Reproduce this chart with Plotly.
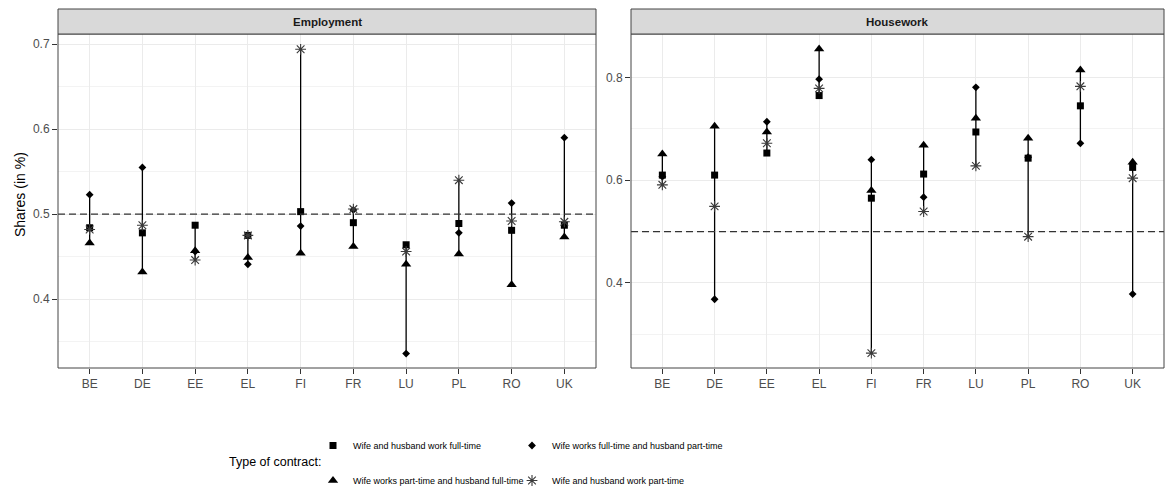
import plotly.graph_objects as go

countries = ["BE", "DE", "EE", "EL", "FI", "FR", "LU", "PL", "RO", "UK"]

series_names = [
    "Wife and husband work full-time",
    "Wife works full-time and husband part-time",
    "Wife works part-time and husband full-time",
    "Wife and husband work part-time",
]

# Employment panel
emp_ft_ft = [0.484, 0.478, 0.487, 0.475, 0.503, 0.490, 0.464, 0.489, 0.481, 0.487]
emp_ft_pt = [0.523, 0.555, 0.456, 0.441, 0.486, 0.505, 0.336, 0.478, 0.513, 0.590]
emp_pt_ft = [0.466, 0.432, 0.457, 0.449, 0.454, 0.462, 0.441, 0.453, 0.417, 0.473]
emp_pt_pt = [0.482, 0.487, 0.446, 0.475, 0.694, 0.506, 0.456, 0.540, 0.492, 0.491]

# Housework panel
hw_ft_ft = [0.610, 0.610, 0.653, 0.765, 0.565, 0.612, 0.694, 0.643, 0.745, 0.625]
hw_ft_pt = [0.607, 0.368, 0.714, 0.797, 0.640, 0.567, 0.781, 0.645, 0.672, 0.378]
hw_pt_ft = [0.651, 0.705, 0.694, 0.856, 0.580, 0.668, 0.721, 0.682, 0.815, 0.635]
hw_pt_pt = [0.591, 0.549, 0.672, 0.779, 0.263, 0.539, 0.628, 0.490, 0.783, 0.604]

panel_titles = ["Employment", "Housework"]
y_title = "Shares (in %)"
legend_title = "Type of contract:"
reference_share = 0.5

W, H = 1166, 488
def px_x(v):
    return v / W
def px_y(v):
    return 1 - v / H

dom1 = [px_x(58), px_x(596)]
dom2 = [px_x(631), px_x(1164)]
ydom = [px_y(368), px_y(34)]

marker_styles = [
    dict(symbol="square", size=7, color="black"),
    dict(symbol="diamond", size=6, color="black"),
    dict(symbol="triangle-up", size=9, color="black"),
    dict(symbol="asterisk-open", size=9, color="#3a3a3a", line=dict(color="#3a3a3a", width=1.1)),
]
# legend columns: col 1 = square / triangle, col 2 = diamond / star
legend_ids = ["legend", "legend2", "legend", "legend2"]

fig = go.Figure()

panels = [
    ("x", "y", [emp_ft_ft, emp_ft_pt, emp_pt_ft, emp_pt_pt], True),
    ("x2", "y2", [hw_ft_ft, hw_ft_pt, hw_pt_ft, hw_pt_pt], False),
]

for xa, ya, series, show in panels:
    lx, ly = [], []
    for i, c in enumerate(countries):
        vals = [s[i] for s in series]
        lx += [c, c, None]
        ly += [min(vals), max(vals), None]
    fig.add_trace(go.Scatter(x=lx, y=ly, mode="lines", line=dict(color="black", width=1.3),
                             xaxis=xa, yaxis=ya, showlegend=False, hoverinfo="skip"))
    for k, s in enumerate(series):
        fig.add_trace(go.Scatter(x=countries, y=s, mode="markers", name=series_names[k],
                                 marker=marker_styles[k], xaxis=xa, yaxis=ya,
                                 legendgroup=f"g{k}", showlegend=show, legend=legend_ids[k]))

axis_font = dict(family="Liberation Sans, Arial, sans-serif", size=12, color="#4D4D4D")
common_x = dict(type="category", range=[-0.6, 9.6], showgrid=True, gridcolor="#EBEBEB", gridwidth=1,
                ticks="outside", ticklen=5, tickcolor="#333333", tickwidth=1, tickfont=axis_font,
                zeroline=False, showline=False, fixedrange=True)

def yaxis_style(step):
    return dict(showgrid=True, gridcolor="#EBEBEB", gridwidth=1, ticks="outside", ticklen=5,
                tickcolor="#333333", tickwidth=1, tickfont=axis_font, zeroline=False, showline=False,
                tick0=0, dtick=step, tickformat=".1f",
                minor=dict(dtick=step / 2, tick0=0, showgrid=True, gridcolor="#F3F3F3", gridwidth=0.6, ticks=""))

legend_font = dict(family="Liberation Sans, Arial, sans-serif", size=9, color="black")
legend_common = dict(orientation="v", xanchor="left", yanchor="top", itemsizing="trace",
                     xref="container", yref="container",
                     traceorder="grouped", tracegroupgap=16, font=legend_font,
                     bgcolor="rgba(0,0,0,0)", borderwidth=0)

fig.update_layout(
    width=W, height=H,
    margin=dict(l=0, r=0, t=0, b=0, autoexpand=False),
    paper_bgcolor="white", plot_bgcolor="white",
    xaxis=dict(domain=dom1, anchor="y", categoryorder="array", categoryarray=countries, **common_x),
    xaxis2=dict(domain=dom2, anchor="y2", categoryorder="array", categoryarray=countries, **common_x),
    yaxis=dict(domain=ydom, anchor="x", range=[0.319, 0.712], **yaxis_style(0.1)),
    yaxis2=dict(domain=ydom, anchor="x2", range=[0.234, 0.885], **yaxis_style(0.2)),
    legend=dict(x=px_x(313), y=px_y(431), **legend_common),
    legend2=dict(x=px_x(512), y=px_y(431), **legend_common),
)

shapes = []
annotations = []
for (xa, ya), dom, title in zip([("x", "y"), ("x2", "y2")], [dom1, dom2], panel_titles):
    shapes.append(dict(type="line", xref=f"{xa} domain", yref=ya, x0=0, x1=1,
                       y0=reference_share, y1=reference_share,
                       line=dict(color="#333333", width=1.3, dash="7px,4px"), layer="above"))
    shapes.append(dict(type="rect", xref=f"{xa} domain", yref=f"{ya} domain", x0=0, x1=1, y0=0, y1=1,
                       line=dict(color="#444444", width=1), fillcolor="rgba(0,0,0,0)", layer="above"))
    shapes.append(dict(type="rect", xref="paper", yref="paper", x0=dom[0], x1=dom[1],
                       y0=ydom[1], y1=px_y(9), line=dict(color="#444444", width=1),
                       fillcolor="#D9D9D9", layer="above"))
    annotations.append(dict(text=f"<b>{title}</b>", xref="paper", yref="paper",
                            x=(dom[0] + dom[1]) / 2, y=(ydom[1] + px_y(9)) / 2,
                            xanchor="center", yanchor="middle", showarrow=False,
                            font=dict(family="Liberation Sans, Arial, sans-serif", size=11.5, color="#1A1A1A")))

annotations.append(dict(text=y_title, xref="paper", yref="paper", x=px_x(20), y=px_y(195),
                        xanchor="center", yanchor="middle", textangle=-90, showarrow=False,
                        font=dict(family="Liberation Sans, Arial, sans-serif", size=14, color="black")))

annotations.append(dict(text=legend_title, xref="paper", yref="paper", x=px_x(323), y=px_y(462),
                        xanchor="right", yanchor="middle", showarrow=False,
                        font=dict(family="Liberation Sans, Arial, sans-serif", size=12.5, color="black")))

fig.update_layout(shapes=shapes, annotations=annotations)

fig.write_html("out.html", config={"displayModeBar": False},
               post_script="document.body.style.margin='0';document.body.style.overflow='hidden';")
